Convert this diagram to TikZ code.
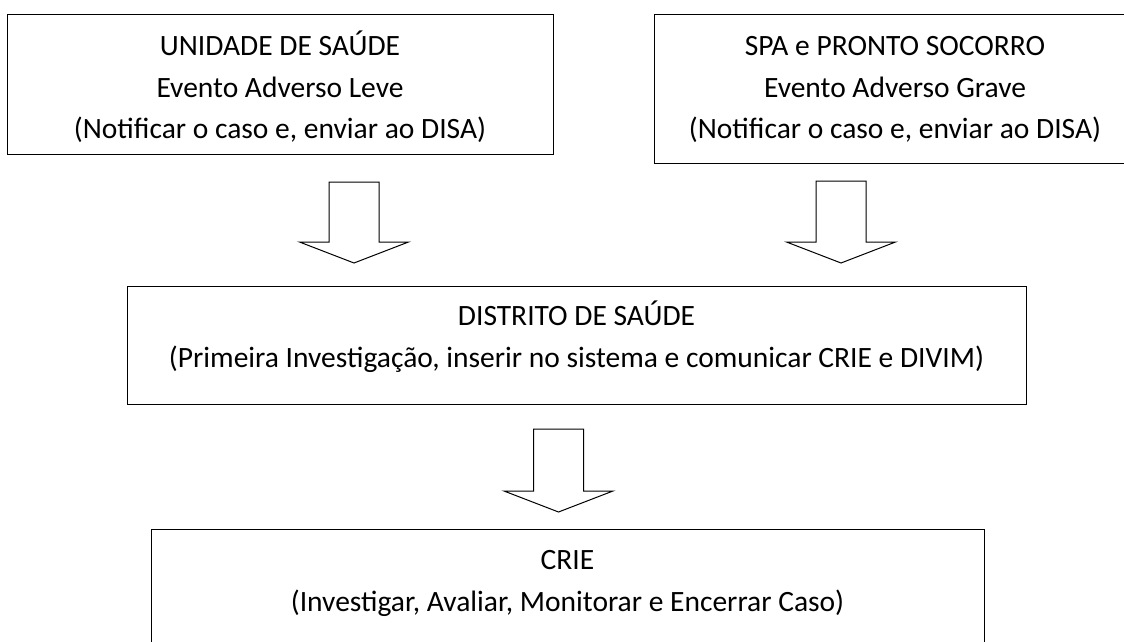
\documentclass[tikz,border=0pt]{standalone}
\usepackage{fontspec}
\setmainfont{Carlito}
\usetikzlibrary{calc}

\tikzset{
  box/.style={draw, line width=1pt, anchor=north, inner sep=0pt, align=center,
    font=\fontsize{29.5}{41.5}\selectfont},
  barrow/.style={draw, line width=1pt, line join=miter, fill=white}
}
% space above the first line and below the last one
\newcommand{\topgap}[1]{\rule{0pt}{#1pt}}
\newcommand{\botgap}[1]{\rule[-#1pt]{0pt}{#1pt}}
% hollow block arrow from #1 (top of shaft) to #2 (tip)
\newcommand{\blockarrow}[2]{%
  \draw[barrow] ($(#1)+(-25,0)$) -- ($(#1)+(25,0)$) -- ($(#2)+(25,-21)$) -- ($(#2)+(54.5,-21)$)
    -- (#2) -- ($(#2)+(-54.5,-21)$) -- ($(#2)+(-25,-21)$) -- cycle;}

\begin{document}
\begin{tikzpicture}[x=1pt,y=1pt,yscale=-1,xscale=1]
\useasboundingbox (0,0) rectangle (1124,642);

% Boxes
\node[box, minimum width=546pt] (us) at (280,14)
  {\topgap{41}UNIDADE DE SAÚDE\\Evento Adverso Leve\\(Notificar o caso e, enviar ao DISA)\botgap{16}};
\node[box, minimum width=482pt] (sp) at (895,14)
  {\topgap{41}SPA e PRONTO SOCORRO\\Evento Adverso Grave\\(Notificar o caso e, enviar ao DISA)\botgap{25}};
\node[box, minimum width=899pt] (di) at (576.5,286)
  {\topgap{39}DISTRITO DE SAÚDE\\(Primeira Investigação, inserir no sistema e comunicar CRIE e DIVIM)\botgap{37.5}};
\node[box, minimum width=833pt] (cr) at (567.5,529)
  {\topgap{40}CRIE\\(Investigar, Avaliar, Monitorar e Encerrar Caso)\botgap{50}};

% Block arrows
\coordinate (a1) at (354,182);
\coordinate (a2) at (841,181);
\coordinate (a3) at (558.5,429);
\blockarrow{a1}{$(a1 |- di.north)+(0,-23)$}
\blockarrow{a2}{$(a2 |- di.north)+(0,-23)$}
\blockarrow{a3}{$(a3 |- cr.north)+(0,-17)$}

\end{tikzpicture}
\end{document}
